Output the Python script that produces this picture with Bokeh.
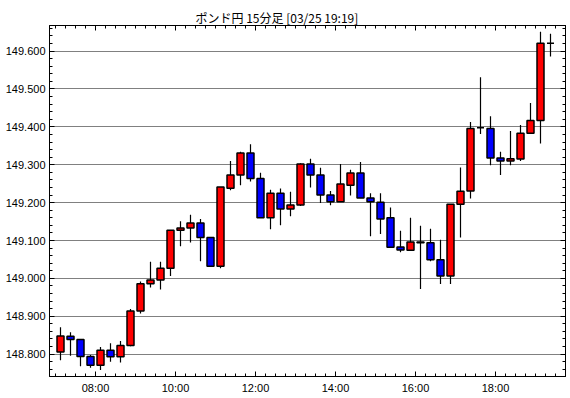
import pandas as pd
from bokeh.plotting import figure
from bokeh.models import (ColumnDataSource, LinearAxis, FixedTicker, Range1d,
                          PrintfTickFormatter, CustomLabelingPolicy)
from bokeh.embed import file_html
from bokeh.resources import INLINE

# ---- data (15-minute candles, GBP/JPY) ----
times = [t.strftime("%H:%M") for t in pd.date_range("2024-03-25 07:00", periods=50, freq="15min")]
opens = [148.806, 148.847, 148.839, 148.794, 148.771, 148.810, 148.793, 148.823, 148.914, 148.986,
         148.996, 149.027, 149.127, 149.133, 149.146, 149.108, 149.032, 149.238, 149.273, 149.331,
         149.264, 149.160, 149.225, 149.183, 149.194, 149.302, 149.273, 149.220, 149.202, 149.246,
         149.278, 149.212, 149.201, 149.160, 149.083, 149.074, 149.096, 149.094, 149.049, 149.006,
         149.196, 149.231, 149.398, 149.396, 149.318, 149.310, 149.315, 149.383, 149.417, 149.621]
highs = [148.871, 148.858, 148.840, 148.798, 148.819, 148.829, 148.835, 148.919, 148.992, 149.044,
         149.044, 149.127, 149.151, 149.168, 149.157, 149.108, 149.241, 149.310, 149.334, 149.354,
         149.279, 149.234, 149.237, 149.229, 149.304, 149.316, 149.292, 149.231, 149.302, 149.287,
         149.307, 149.225, 149.225, 149.187, 149.126, 149.160, 149.139, 149.131, 149.102, 149.196,
         149.293, 149.413, 149.531, 149.428, 149.334, 149.389, 149.405, 149.463, 149.651, 149.646]
lows = [148.784, 148.796, 148.768, 148.764, 148.758, 148.780, 148.778, 148.821, 148.907, 148.976,
        148.971, 149.006, 149.085, 149.095, 149.045, 149.032, 149.027, 149.233, 149.246, 149.256,
        149.160, 149.130, 149.140, 149.164, 149.191, 149.240, 149.199, 149.193, 149.202, 149.219,
        149.212, 149.111, 149.117, 149.082, 149.069, 149.072, 148.972, 149.045, 148.985, 148.985,
        149.108, 149.211, 149.381, 149.299, 149.273, 149.299, 149.310, 149.383, 149.356, 149.586]
closes = [148.848, 148.839, 148.794, 148.771, 148.810, 148.793, 148.823, 148.914, 148.986, 148.996,
          149.027, 149.127, 149.133, 149.146, 149.108, 149.032, 149.241, 149.273, 149.331, 149.264,
          149.160, 149.225, 149.183, 149.194, 149.302, 149.273, 149.220, 149.202, 149.249, 149.278,
          149.212, 149.202, 149.157, 149.082, 149.075, 149.096, 149.094, 149.049, 149.006, 149.196,
          149.230, 149.396, 149.398, 149.318, 149.310, 149.316, 149.383, 149.417, 149.621, 149.621]

x_tick_labels = ["08:00", "10:00", "12:00", "14:00", "16:00", "18:00"]
y_tick_values = [148.8, 148.9, 149.0, 149.1, 149.2, 149.3, 149.4, 149.5, 149.6]
title_text = "ポンド円 15分足 [03/25 19:19]"

def to_min(s):
    h, m = s.split(":")
    return int(h) * 60 + int(m)

BAR = 15  # minutes per candle
xs = [to_min(t) + BAR / 2 for t in times]
tops = [max(o, c) for o, c in zip(opens, closes)]
bottoms = [min(o, c) for o, c in zip(opens, closes)]
colors = ["#FF0000" if c >= o else "#0000FF" for o, c in zip(opens, closes)]

src = ColumnDataSource(dict(x=xs, high=highs, low=lows, top=tops, bottom=bottoms, color=colors))

x_major = [to_min(t) for t in x_tick_labels]
x_minor = list(range(to_min("06:00"), to_min("20:15"), BAR))
y_minor = [round(148.70 + 0.02 * i, 2) for i in range(60)]

p = figure(width=570, height=398, output_backend="svg", toolbar_location=None,
           x_range=Range1d(411, 1185), y_range=Range1d(148.741, 149.6676),
           min_border_left=49, min_border_right=5, min_border_top=25, min_border_bottom=22)
p.background_fill_color = "white"
p.border_fill_color = "white"
p.outline_line_color = "black"
p.outline_line_width = 1

xticker = FixedTicker(ticks=x_major, minor_ticks=x_minor)
yticker = FixedTicker(ticks=y_tick_values, minor_ticks=y_minor)

FONT = "Liberation Sans"
no_labels = CustomLabelingPolicy(code="return new indices.constructor(indices.size)")

def style_axis(ax, labels=True):
    ax.axis_line_color = "black"
    ax.major_tick_line_color = "black"
    ax.minor_tick_line_color = "black"
    ax.major_tick_in = 5
    ax.major_tick_out = 0
    ax.minor_tick_in = 3
    ax.minor_tick_out = 0
    ax.major_label_text_font = FONT
    ax.major_label_text_color = "black"
    ax.major_label_text_font_size = "11px"
    if not labels:
        # tick marks only: no label space, no labels drawn
        ax.major_label_policy = no_labels
        ax.major_label_text_font_size = "0px"
        ax.major_label_standoff = 0

# bottom axis
bx = p.xaxis[0]
bx.ticker = xticker
bx.major_label_overrides = {to_min(t): t for t in x_tick_labels}
style_axis(bx)
bx.major_label_standoff = 5

# left axis
ly = p.yaxis[0]
ly.ticker = yticker
ly.formatter = PrintfTickFormatter(format="%.3f")
style_axis(ly)
ly.major_label_standoff = 4

# top and right axes (ticks only)
tx = LinearAxis(ticker=xticker)
style_axis(tx, labels=False)
p.add_layout(tx, "above")
ry = LinearAxis(ticker=yticker)
style_axis(ry, labels=False)
p.add_layout(ry, "right")

p.xgrid.visible = False
p.ygrid.ticker = yticker
p.ygrid.grid_line_color = "black"
p.ygrid.grid_line_dash = "1 1"
p.ygrid.grid_line_width = 1

p.title.text = title_text
p.title.align = "left"
p.title.offset = 146
p.title.standoff = 0
p.title.text_font = "Noto Sans CJK JP"
p.title.text_font_size = "12px"
p.title.text_font_style = "normal"
p.title.text_color = "black"

p.segment(x0="x", y0="low", x1="x", y1="high", source=src, line_color="black", line_width=1.2)
p.vbar(x="x", width=BAR * 0.7, top="top", bottom="bottom", source=src,
       fill_color="color", line_color="black", line_width=1.5)

open("out.html", "w").write(file_html(p, INLINE))
